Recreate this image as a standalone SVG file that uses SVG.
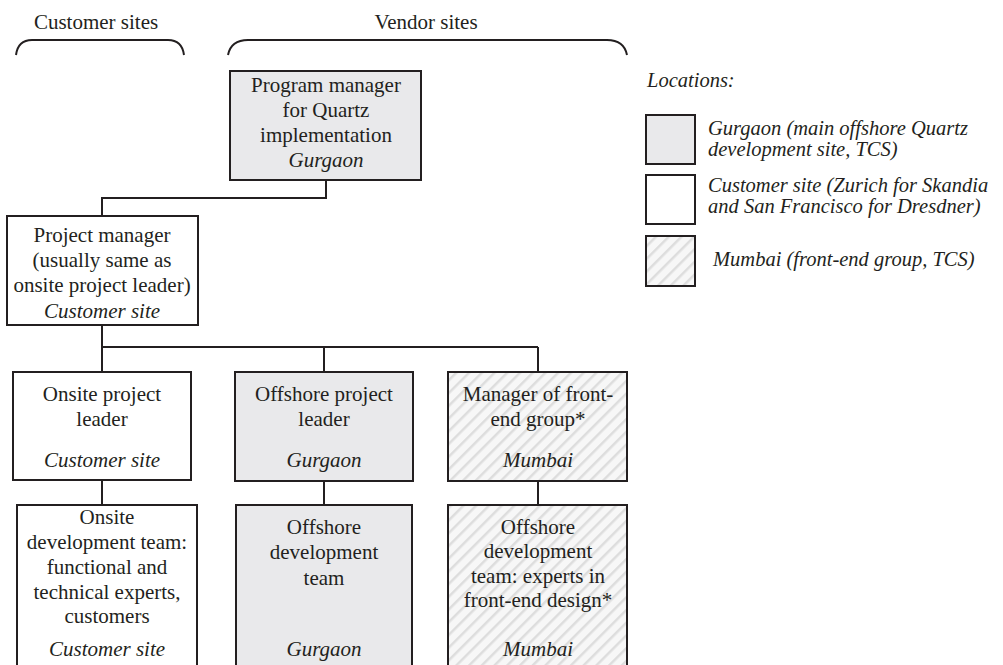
<svg xmlns="http://www.w3.org/2000/svg" width="1003" height="665" viewBox="0 0 1003 665">
<style>
text{font-family:"Liberation Serif","Times New Roman",serif;font-size:21px;fill:#231f20;text-anchor:middle}
.it{font-style:italic}
.lg{text-anchor:start;font-style:italic;font-size:20.5px}
.box{stroke:#231f20;stroke-width:2}
.gur{fill:#e9e9eb}
.cus{fill:#ffffff}
.mum{fill:url(#hatch)}
.con{fill:none;stroke:#231f20;stroke-width:2}
.br{fill:none;stroke:#231f20;stroke-width:2}
</style>
<defs>
<pattern id="hatch" patternUnits="userSpaceOnUse" width="9" height="9" patternTransform="rotate(45)">
<rect width="9" height="9" fill="#f7f7f7"/>
<rect width="2.5" height="9" fill="#dddddd"/>
</pattern>
</defs>
<rect width="1003" height="665" fill="#ffffff"/>

<g id="headers">
<text x="96" y="29">Customer sites</text>
<text x="426" y="29">Vendor sites</text>
<path class="br" d="M16,55 Q18,40 32,40 H168 Q182,40 184,55"/>
<path class="br" d="M228,55 Q231,40 248,40 H607 Q624,40 627,55"/>
</g>

<g id="connectors">
<path class="con" d="M326,180 V198 H102 V216"/>
<path class="con" d="M102,325 V347 M102,347 H538 M102,347 V372 M324,347 V372 M538,347 V372"/>
<path class="con" d="M102,480 V505 M324,481 V505 M538,481 V505"/>
</g>

<g id="program-manager">
<rect class="box gur" x="230" y="71" width="191" height="109"/>
<text x="326" y="92">Program manager</text>
<text x="326" y="117">for Quartz</text>
<text x="326" y="142">implementation</text>
<text x="326" y="167" class="it">Gurgaon</text>
</g>

<g id="project-manager">
<rect class="box cus" x="7" y="216" width="191" height="109"/>
<text x="102" y="242">Project manager</text>
<text x="102" y="267">(usually same as</text>
<text x="102" y="292">onsite project leader)</text>
<text x="102" y="318" class="it">Customer site</text>
</g>

<g id="onsite-leader">
<rect class="box cus" x="13" y="372" width="178" height="108"/>
<text x="102" y="401">Onsite project</text>
<text x="102" y="426">leader</text>
<text x="102" y="467" class="it">Customer site</text>
</g>

<g id="offshore-leader">
<rect class="box gur" x="235" y="372" width="178" height="109"/>
<text x="324" y="401">Offshore project</text>
<text x="324" y="426">leader</text>
<text x="324" y="467" class="it">Gurgaon</text>
</g>

<g id="frontend-manager">
<rect class="box mum" x="448" y="372" width="179" height="109"/>
<text x="538" y="401">Manager of front-</text>
<text x="538" y="426">end group*</text>
<text x="538" y="467" class="it">Mumbai</text>
</g>

<g id="onsite-team">
<rect class="box cus" x="17" y="505" width="180" height="162"/>
<text x="107" y="524">Onsite</text>
<text x="107" y="549">development team:</text>
<text x="107" y="574">functional and</text>
<text x="107" y="599">technical experts,</text>
<text x="107" y="623">customers</text>
<text x="107" y="656" class="it">Customer site</text>
</g>

<g id="offshore-team">
<rect class="box gur" x="236" y="505" width="176" height="162"/>
<text x="324" y="534">Offshore</text>
<text x="324" y="559">development</text>
<text x="324" y="585">team</text>
<text x="324" y="656" class="it">Gurgaon</text>
</g>

<g id="frontend-team">
<rect class="box mum" x="448" y="505" width="179" height="162"/>
<text x="538" y="534">Offshore</text>
<text x="538" y="558">development</text>
<text x="538" y="583">team: experts in</text>
<text x="538" y="607">front-end design*</text>
<text x="538" y="656" class="it">Mumbai</text>
</g>

<g id="legend">
<text x="647" y="87" class="lg">Locations:</text>
<rect class="box gur" x="646" y="115" width="49" height="49"/>
<text x="708" y="135" class="lg">Gurgaon (main offshore Quartz</text>
<text x="708" y="156" class="lg">development site, TCS)</text>
<rect class="box cus" x="646" y="175" width="49" height="49"/>
<text x="708" y="192" class="lg">Customer site (Zurich for Skandia</text>
<text x="708" y="213" class="lg">and San Francisco for Dresdner)</text>
<rect class="box mum" x="646" y="236" width="49" height="50"/>
<text x="713" y="266" class="lg">Mumbai (front-end group, TCS)</text>
</g>
</svg>
